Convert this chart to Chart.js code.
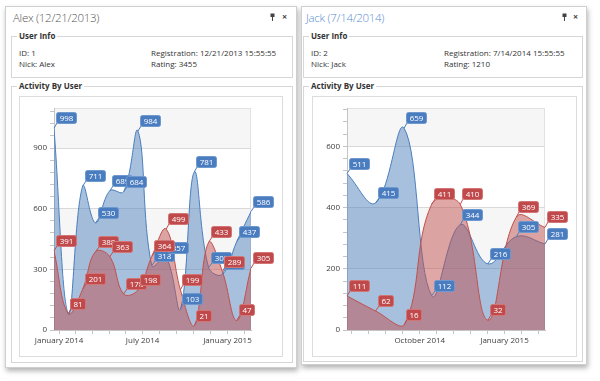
<!DOCTYPE html>
<html>
<head>
<meta charset="utf-8">
<script src="https://cdn.jsdelivr.net/npm/chart.js@4.4.0/dist/chart.umd.min.js"></script>
<style>
  body { margin: 0; width: 600px; height: 381px; background: #fff; position: relative; overflow: hidden; font-family: "Open Sans", sans-serif; color: #333; }
  .panel { position: absolute; background: #fff; border: 1px solid #cfcfcf; box-shadow: 1px 3px 5px rgba(0, 0, 0, 0.3); }
  .titulo { position: absolute; font-size: 11.5px; letter-spacing: -0.3px; font-weight: 300; line-height: 16px; color: #555; }
  .activo { color: #5a8cd2; }
  .icono { position: absolute; font-size: 9px; font-weight: bold; line-height: 10px; color: #444; }
  .grupo { position: absolute; border: 1px solid #d6d6d6; }
  .etiqueta { position: absolute; font-size: 8px; font-weight: bold; line-height: 11px; background: #fff; padding: 0 2px; color: #333; }
  .texto { position: absolute; font-size: 8px; line-height: 11px; color: #333; white-space: nowrap; }
  .caja { position: absolute; border: 1px solid #dcdcdc; box-sizing: border-box; }
  canvas { position: absolute; }
</style>
</head>
<body>
  <div class="panel" style="left:5px; top:6px; width:290px; height:360px;"></div>
  <div class="titulo" style="left:13px; top:10px;">Alex (12/21/2013)</div>
  <svg class="icono" style="left:270px; top:13px;" width="5" height="8"><rect x="0.5" y="0.5" width="4" height="3.5" fill="#444"/><rect x="2" y="4" width="1" height="4" fill="#444"/></svg>
  <div class="icono" style="left:282px; top:12px;">×</div>

  <div class="grupo" style="left:11px; top:36px; width:280px; height:40px;"></div>
  <div class="etiqueta" style="left:17px; top:30px;">User Info</div>
  <div class="texto" style="left:19px; top:47px;">ID: 1</div>
  <div class="texto" style="left:19px; top:58px;">Nick: Alex</div>
  <div class="texto" style="left:151px; top:47px;">Registration: 12/21/2013 15:55:55</div>
  <div class="texto" style="left:151px; top:58px;">Rating: 3455</div>

  <div class="grupo" style="left:11px; top:86px; width:280px; height:275px;"></div>
  <div class="etiqueta" style="left:17px; top:80px;">Activity By User</div>
  <div class="caja" style="left:19px; top:96px; width:264px; height:261px;"></div>
  <canvas id="graficoAlex" width="264" height="261" style="left:19px; top:96px;"></canvas>

  <div class="panel" style="left:301px; top:6px; width:284px; height:357px;"></div>
  <div class="titulo activo" style="left:306px; top:10px;">Jack (7/14/2014)</div>
  <svg class="icono" style="left:562px; top:13px;" width="5" height="8"><rect x="0.5" y="0.5" width="4" height="3.5" fill="#444"/><rect x="2" y="4" width="1" height="4" fill="#444"/></svg>
  <div class="icono" style="left:573px; top:12px;">×</div>

  <div class="grupo" style="left:303px; top:36px; width:278px; height:40px;"></div>
  <div class="etiqueta" style="left:309px; top:30px;">User Info</div>
  <div class="texto" style="left:311px; top:47px;">ID: 2</div>
  <div class="texto" style="left:311px; top:58px;">Nick: Jack</div>
  <div class="texto" style="left:444px; top:47px;">Registration: 7/14/2014 15:55:55</div>
  <div class="texto" style="left:444px; top:58px;">Rating: 1210</div>

  <div class="grupo" style="left:303px; top:86px; width:278px; height:274px;"></div>
  <div class="etiqueta" style="left:309px; top:80px;">Activity By User</div>
  <div class="caja" style="left:312px; top:96px; width:265px; height:261px;"></div>
  <canvas id="graficoJack" width="265" height="261" style="left:312px; top:96px;"></canvas>

<script>
// Alex
const fechasAlex = ["2013-12-21", "2014-01-21", "2014-02-21", "2014-03-21", "2014-04-21", "2014-05-21", "2014-06-21", "2014-07-21",
  "2014-08-21", "2014-09-21", "2014-10-21", "2014-11-21", "2014-12-21", "2015-01-21", "2015-02-21"];
const azulAlex = [998, 80, 711, 530, 689, 684, 984, 318, 357, 103, 781, 309, 275, 437, 586];
const rojaAlex = [391, 81, 201, 388, 363, 178, 198, 364, 499, 199, 21, 433, 289, 47, 305];
const marcasAlex = ["2014-01-01", "2014-07-01", "2015-01-01"];
const textosAlex = ["January 2014", "July 2014", "January 2015"];
const valoresYAlex = [0, 300, 600, 900];
const maxYAlex = 1098;

// Jack
const fechasJack = ["2014-07-14", "2014-08-14", "2014-09-14", "2014-10-14", "2014-11-14", "2014-12-14", "2015-01-14", "2015-02-14"];
const azulJack = [511, 415, 659, 112, 344, 216, 305, 281];
const rojaJack = [111, 62, 16, 411, 410, 32, 369, 335];
const marcasJack = ["2014-10-01", "2015-01-01"];
const textosJack = ["October 2014", "January 2015"];
const valoresYJack = [0, 200, 400, 600];
const maxYJack = 725;

const dia = (f) => Date.parse(f + "T00:00:00Z") / 86400000;

// marcas menores: 5 divisiones entre cada marca mayor
function marcasX(mayores, min, max) {
  const lista = [];
  const pasoIni = (mayores[1] - mayores[0]) / 5;
  for (let v = mayores[0] - pasoIni; v >= min; v -= pasoIni) lista.unshift(v);
  for (let i = 0; i < mayores.length - 1; i++) {
    const paso = (mayores[i + 1] - mayores[i]) / 5;
    for (let k = 0; k < 5; k++) lista.push(mayores[i] + k * paso);
  }
  const n = mayores.length;
  const pasoFin = (mayores[n - 1] - mayores[n - 2]) / 5;
  lista.push(mayores[n - 1]);
  for (let v = mayores[n - 1] + pasoFin; v <= max; v += pasoFin) lista.push(v);
  return lista.map((v) => ({ value: v }));
}

const bandas = {
  id: "bandas",
  beforeDraw(chart, args, opciones) {
    const { ctx, chartArea: a } = chart;
    const y = chart.scales.y;
    const valores = opciones.valores;
    ctx.save();
    ctx.fillStyle = "#f6f6f6";
    valores.forEach((v, i) => {
      if (i % 2 === 0) return;
      const arriba = i + 1 < valores.length ? y.getPixelForValue(valores[i + 1]) : a.top;
      ctx.fillRect(a.left, arriba, a.right - a.left, y.getPixelForValue(v) - arriba);
    });
    ctx.strokeStyle = "#e2e2e2";
    ctx.lineWidth = 1;
    ctx.strokeRect(a.left + 0.5, a.top + 0.5, a.right - a.left - 1, a.bottom - a.top);
    ctx.restore();
  },
};

const etiquetas = {
  id: "etiquetas",
  afterDatasetsDraw(chart) {
    const ctx = chart.ctx;
    ctx.save();
    ctx.font = '8px "Open Sans"';
    ctx.textAlign = "center";
    ctx.textBaseline = "middle";
    chart.data.datasets.forEach((ds, i) => {
      const meta = chart.getDatasetMeta(i);
      meta.data.forEach((pt, j) => {
        const texto = String(ds.data[j].y);
        const w = Math.round(ctx.measureText(texto).width + 6);
        const h = 11;
        const bx = Math.round(pt.x + 2);
        const by = Math.round(pt.y - 5 - h);
        ctx.strokeStyle = ds.borderColor;
        ctx.lineWidth = 1;
        ctx.beginPath();
        ctx.moveTo(pt.x, pt.y);
        ctx.lineTo(bx + 1, by + h);
        ctx.stroke();
        ctx.beginPath();
        ctx.roundRect(bx + 0.5, by + 0.5, w, h, 2);
        ctx.fillStyle = ds.fondoEtiqueta;
        ctx.fill();
        ctx.strokeStyle = ds.bordeEtiqueta;
        ctx.stroke();
        ctx.fillStyle = "#fff";
        ctx.fillText(texto, bx + 0.5 + w / 2, by + 0.5 + h / 2 + 0.5);
      });
    });
    ctx.restore();
  },
};

function crearGrafico(id, fechas, azul, roja, maxY, valoresY, marcas, textos) {
  const xs = fechas.map(dia);
  const mayoresX = marcas.map(dia);
  const nombres = {};
  mayoresX.forEach((v, i) => (nombres[v] = textos[i]));
  const pasoY = (valoresY[1] - valoresY[0]) / 5;

  return new Chart(document.getElementById(id), {
    type: "line",
    data: {
      datasets: [
        {
          data: xs.map((x, i) => ({ x, y: azul[i] })),
          borderColor: "#4a7ebd",
          backgroundColor: "rgba(79, 129, 189, 0.5)",
          fondoEtiqueta: "#4a7cc0",
          bordeEtiqueta: "#6f98cf",
          fill: "origin",
          order: 2,
        },
        {
          data: xs.map((x, i) => ({ x, y: roja[i] })),
          borderColor: "#c0504d",
          backgroundColor: "rgba(192, 80, 77, 0.5)",
          fondoEtiqueta: "#c0494b",
          bordeEtiqueta: "#d27575",
          fill: "origin",
          order: 1,
        },
      ],
    },
    options: {
      responsive: false,
      animation: false,
      layout: { padding: { top: 12, right: 32, bottom: 7, left: 0 } },
      elements: {
        point: { radius: 0, hoverRadius: 0 },
        line: { borderWidth: 1, tension: 0.4 },
      },
      plugins: {
        legend: { display: false },
        tooltip: { enabled: false },
        bandas: { valores: valoresY },
      },
      scales: {
        x: {
          type: "linear",
          min: xs[0],
          max: xs[xs.length - 1],
          afterFit: (s) => { s.height = 20; },
          afterBuildTicks: (s) => { s.ticks = marcasX(mayoresX, xs[0], xs[xs.length - 1]); },
          ticks: {
            autoSkip: false,
            maxRotation: 0,
            padding: 2,
            color: "#404040",
            font: { family: "Open Sans", size: 8 },
            callback: (v) => nombres[v] || "",
          },
          grid: { drawOnChartArea: false, tickLength: 4, tickColor: "#c4c4c4" },
          border: { color: "#c4c4c4" },
        },
        y: {
          min: 0,
          max: maxY,
          afterFit: (s) => { s.width = 35; },
          afterBuildTicks: (s) => {
            const t = [];
            for (let v = 0; v <= maxY; v += pasoY) t.push({ value: v });
            s.ticks = t;
          },
          ticks: {
            autoSkip: false,
            padding: 3,
            color: "#404040",
            font: { family: "Open Sans", size: 8 },
            callback: (v) => (valoresY.includes(v) ? v : ""),
          },
          grid: {
            color: (c) => (c.tick && valoresY.includes(c.tick.value) ? "#d9d9d9" : "rgba(0,0,0,0)"),
            tickColor: "#c4c4c4",
            tickLength: 4,
          },
          border: { color: "#c4c4c4" },
        },
      },
    },
    plugins: [bandas, etiquetas],
  });
}

crearGrafico("graficoAlex", fechasAlex, azulAlex, rojaAlex, maxYAlex, valoresYAlex, marcasAlex, textosAlex);
crearGrafico("graficoJack", fechasJack, azulJack, rojaJack, maxYJack, valoresYJack, marcasJack, textosJack);
</script>
</body>
</html>
